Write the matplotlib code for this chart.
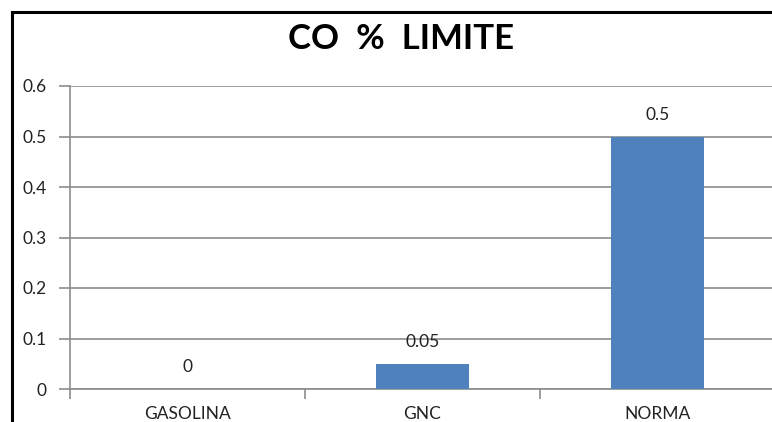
import matplotlib
matplotlib.use("Agg")
import matplotlib.pyplot as plt
from matplotlib.lines import Line2D

categories = ["GASOLINA", "GNC", "NORMA"]
values = [0, 0.05, 0.5]
value_labels = ["0", "0.05", "0.5"]
y_ticks = [0, 0.1, 0.2, 0.3, 0.4, 0.5, 0.6]
y_tick_labels = ["0", "0.1", "0.2", "0.3", "0.4", "0.5", "0.6"]
title = "CO  %  LIMITE"

W, H = 772, 422
plt.rcParams["font.family"] = ["Lato", "DejaVu Sans"]

fig = plt.figure(figsize=(W / 100, H / 100), dpi=100)
fig.patch.set_facecolor("white")

# chart frame (top and left edges visible)
fig.add_artist(Line2D([12 / W, 12 / W], [0, 1 - 12 / H], transform=fig.transFigure,
                      color="black", lw=2.2))
fig.add_artist(Line2D([12 / W, 1], [1 - 12 / H, 1 - 12 / H], transform=fig.transFigure,
                      color="black", lw=2.2))

left, right = 70 / W, 775 / W
bottom, top = 1 - 389 / H, 1 - 86 / H
ax = fig.add_axes([left, bottom, right - left, top - bottom])

x = list(range(len(categories)))
ax.bar(x, values, width=0.395, color="#4F81BD", zorder=3)
ax.set_xlim(-0.5, len(categories) - 0.5)
ax.set_ylim(0, 0.6)

fs = 12.5
ax.set_yticks(y_ticks)
ax.set_yticklabels(y_tick_labels, fontsize=fs, color="#222222")
ax.yaxis.grid(True, color="#8c8c8c", lw=1.2, zorder=0)
ax.set_axisbelow(True)

# category ticks at boundaries, labels at centers
ax.set_xticks([i - 0.5 for i in range(len(categories) + 1)])
ax.set_xticklabels([])
ax.set_xticks(x, minor=True)
ax.set_xticklabels(categories, minor=True, fontsize=fs, color="#222222")
ax.tick_params(axis="x", which="minor", length=0, pad=12)
ax.tick_params(axis="x", which="major", length=7, color="#8c8c8c", width=1.2)
ax.tick_params(axis="y", length=8, color="#8c8c8c", width=1.2, pad=9)

for side in ["top", "right"]:
    ax.spines[side].set_visible(False)
for side in ["left", "bottom"]:
    ax.spines[side].set_color("#8c8c8c")
    ax.spines[side].set_linewidth(1.2)

for xi, v, lab in zip(x, values, value_labels):
    ax.annotate(lab, (xi, v), xytext=(0, 10), textcoords="offset points",
                ha="center", va="bottom", fontsize=fs, color="#222222")

fig.text(401 / W, 1 - 39 / H, title, ha="center", va="center",
         fontsize=25, fontweight="bold", color="black")

fig.savefig("out.png", dpi=100)
